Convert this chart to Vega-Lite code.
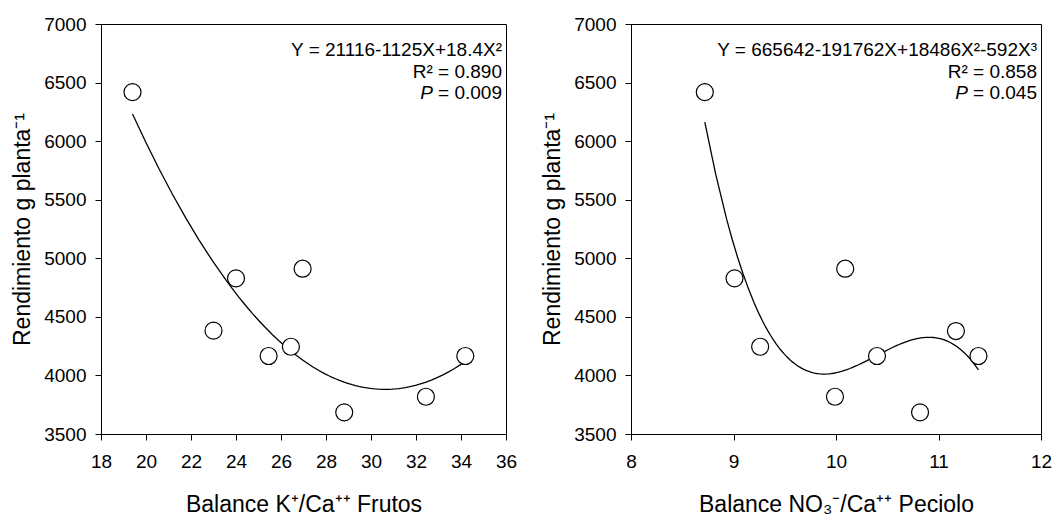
{
  "$schema": "https://vega.github.io/schema/vega-lite/v6.json",
  "background": "white",
  "padding": {"left": 11, "top": 14, "right": 0, "bottom": 0},
  "spacing": 23,
  "config": {
    "font": "Liberation Sans",
    "view": {"stroke": "black", "strokeWidth": 1},
    "axis": {
      "grid": false,
      "labelFlush": false,
      "labelOverlap": false,
      "domainColor": "black",
      "domainWidth": 1,
      "tickColor": "black",
      "tickWidth": 1,
      "tickSize": 6,
      "labelColor": "black",
      "titleColor": "black",
      "labelFontSize": 19,
      "titleFontSize": 23,
      "titleFontWeight": "normal",
      "labelFont": "Liberation Sans",
      "titleFont": "Liberation Sans"
    },
    "axisX": {"labelPadding": 12, "titlePadding": 22},
    "axisY": {"labelPadding": 9, "titlePadding": 9}
  },
  "hconcat": [
    {
      "width": 405,
      "height": 410,
      "data": {
        "values": [
          {"x": 19.4, "y": 6418},
          {"x": 23.0, "y": 4382},
          {"x": 24.0, "y": 4829},
          {"x": 25.45, "y": 4166},
          {"x": 26.44, "y": 4245},
          {"x": 26.96, "y": 4911},
          {"x": 28.81, "y": 3685},
          {"x": 32.44, "y": 3818},
          {"x": 34.19, "y": 4166}
        ]
      },
      "layer": [
        {
          "transform": [{"regression": "y", "on": "x", "method": "poly", "order": 2}],
          "mark": {"type": "line", "color": "black", "strokeWidth": 1.3},
          "encoding": {
            "x": {"field": "x", "type": "quantitative", "scale": {"domain": [18, 36], "nice": false, "zero": false},
              "axis": {"title": "Balance K⁺/Ca⁺⁺ Frutos", "values": [18, 20, 22, 24, 26, 28, 30, 32, 34, 36], "format": "d"}},
            "y": {"field": "y", "type": "quantitative", "scale": {"domain": [3500, 7000], "nice": false, "zero": false},
              "axis": {"title": "Rendimiento g planta⁻¹", "values": [3500, 4000, 4500, 5000, 5500, 6000, 6500, 7000], "format": "d"}}
          }
        },
        {
          "mark": {"type": "point", "shape": "circle", "size": 289, "fill": "white", "stroke": "black", "strokeWidth": 1.2, "opacity": 1, "fillOpacity": 1},
          "encoding": {
            "x": {"field": "x", "type": "quantitative"},
            "y": {"field": "y", "type": "quantitative"}
          }
        },
        {
          "data": {"values": [{}]},
          "mark": {"type": "text", "text": ["Y = 21116-1125X+18.4X²", "R² = 0.890", "= 0.009"], "align": "right", "baseline": "alphabetic", "lineHeight": 21.5, "fontSize": 19, "color": "black", "dx": -4, "dy": 32},
          "encoding": {"x": {"datum": 36}, "y": {"datum": 7000}}
        },
        {
          "data": {"values": [{}]},
          "mark": {"type": "text", "text": "P", "fontStyle": "italic", "align": "right", "baseline": "alphabetic", "fontSize": 19, "color": "black", "dx": -73, "dy": 75},
          "encoding": {"x": {"datum": 36}, "y": {"datum": 7000}}
        }
      ]
    },
    {
      "width": 410,
      "height": 410,
      "data": {
        "values": [
          {"x": 8.72, "y": 6418},
          {"x": 9.01, "y": 4829},
          {"x": 9.26, "y": 4245},
          {"x": 9.99, "y": 3818},
          {"x": 10.09, "y": 4911},
          {"x": 10.40, "y": 4166},
          {"x": 10.82, "y": 3685},
          {"x": 11.17, "y": 4379},
          {"x": 11.39, "y": 4166}
        ]
      },
      "layer": [
        {
          "transform": [{"regression": "y", "on": "x", "method": "poly", "order": 3}],
          "mark": {"type": "line", "color": "black", "strokeWidth": 1.3},
          "encoding": {
            "x": {"field": "x", "type": "quantitative", "scale": {"domain": [8, 12], "nice": false, "zero": false},
              "axis": {"title": "Balance NO₃⁻/Ca⁺⁺ Peciolo", "values": [8, 9, 10, 11, 12], "format": "d"}},
            "y": {"field": "y", "type": "quantitative", "scale": {"domain": [3500, 7000], "nice": false, "zero": false},
              "axis": {"title": "Rendimiento g planta⁻¹", "values": [3500, 4000, 4500, 5000, 5500, 6000, 6500, 7000], "format": "d"}}
          }
        },
        {
          "mark": {"type": "point", "shape": "circle", "size": 289, "fill": "white", "stroke": "black", "strokeWidth": 1.2, "opacity": 1, "fillOpacity": 1},
          "encoding": {
            "x": {"field": "x", "type": "quantitative"},
            "y": {"field": "y", "type": "quantitative"}
          }
        },
        {
          "data": {"values": [{}]},
          "mark": {"type": "text", "text": ["Y = 665642-191762X+18486X²-592X³", "R² = 0.858", "= 0.045"], "align": "right", "baseline": "alphabetic", "lineHeight": 21.5, "fontSize": 19, "color": "black", "dx": -4, "dy": 32},
          "encoding": {"x": {"datum": 12}, "y": {"datum": 7000}}
        },
        {
          "data": {"values": [{}]},
          "mark": {"type": "text", "text": "P", "fontStyle": "italic", "align": "right", "baseline": "alphabetic", "fontSize": 19, "color": "black", "dx": -73, "dy": 75},
          "encoding": {"x": {"datum": 12}, "y": {"datum": 7000}}
        }
      ]
    }
  ]
}
